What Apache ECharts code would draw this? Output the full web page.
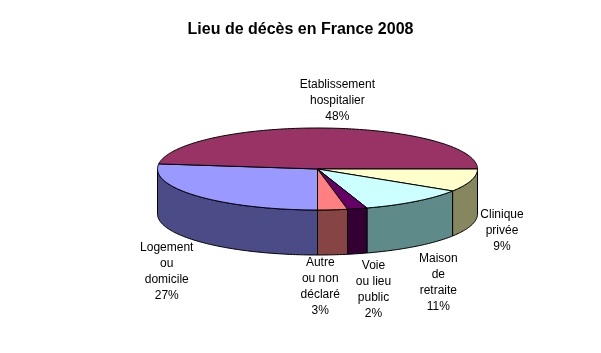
<!DOCTYPE html>
<html>
<head>
    <meta charset="utf-8" />
    <title>Lieu de décès</title>
    <script src="https://cdn.jsdelivr.net/npm/echarts@6/dist/echarts.min.js"></script>
</head>
<body style="margin:0;background:#fff;">
<div id="main" style="width: 601px;height:353px;"></div>
<script type="text/javascript">
    // données
    var categories = ['Logement ou domicile', 'Etablissement hospitalier', 'Clinique privée', 'Maison de retraite', 'Voie ou lieu public', 'Autre ou non déclaré'];
    var values = [27, 48, 9, 11, 2, 3];
    var labelTexts = ['Logement\nou\ndomicile', 'Etablissement\nhospitalier', 'Clinique\nprivée', 'Maison\nde\nretraite', 'Voie\nou lieu\npublic', 'Autre\nou non\ndéclaré'];

    // couleurs : dessus / côté
    var topColors = ['#9999ff', '#993366', '#ffffcc', '#ccffff', '#660066', '#ff8080'];
    var sideColors = ['#4b4b87', '#511b36', '#87875f', '#5f8a8a', '#330033', '#874444'];
    // petits décalages des étiquettes (comme Excel)
    var labelNudge = [[-9, 7], [8, 1], [3, -3], [5, 8], [9, 1], [-15, -4]];

    // camembert 3D aplati
    var pie = {cx: 317.5, cy: 169, rx: 160, ry: 41, depth: 45, start: 180};

    var total = 0, cum = [];
    values.forEach(function (v) { cum.push(total); total += v; });

    function pt(deg, dy) {
        var r = deg * Math.PI / 180;
        return [pie.cx + pie.rx * Math.sin(r), pie.cy - pie.ry * Math.cos(r) + dy];
    }

    function renderItem(params, api) {
        var i = params.dataIndex;
        var v = api.value(0);
        var a0 = pie.start + cum[i] / total * 360;
        var a1 = a0 + v / total * 360;
        var children = [];
        var d, k;

        // dessus
        var pts = [[pie.cx, pie.cy]];
        for (d = a0; d < a1; d += 1) pts.push(pt(d, 0));
        pts.push(pt(a1, 0));
        children.push({
            type: 'polygon', z2: 1,
            shape: {points: pts},
            style: {fill: topColors[i], stroke: '#000', lineWidth: 1}
        });

        // côté visible (devant)
        for (k = 0; k < 2; k++) {
            var lo = Math.max(a0, 90 + 360 * k), hi = Math.min(a1, 270 + 360 * k);
            if (hi > lo) {
                var w = [];
                for (d = lo; d < hi; d += 1) w.push(pt(d, 0));
                w.push(pt(hi, 0));
                w.push(pt(hi, pie.depth));
                for (d = hi; d > lo; d -= 1) w.push(pt(d, pie.depth));
                w.push(pt(lo, pie.depth));
                children.push({
                    type: 'polygon', z2: 0,
                    shape: {points: w},
                    style: {fill: sideColors[i], stroke: '#000', lineWidth: 1}
                });
            }
        }

        // étiquette
        var mid = ((a0 + a1) / 2) % 360;
        var rad = mid * Math.PI / 180;
        var sx = Math.sin(rad), sy = -Math.cos(rad);
        var front = mid > 90 && mid < 270;
        var rim = pt(mid, front ? pie.depth : 0);
        var text = labelTexts[i] + '\n' + v + '%';
        var nLines = text.split('\n').length;
        var lx = rim[0] + sx * 4 + sx * 25 + labelNudge[i][0];
        var ly = rim[1] + sy * 4 + sy * nLines * 8 + labelNudge[i][1];
        children.push({
            type: 'text', z2: 2,
            style: {
                text: text, x: lx, y: ly,
                align: 'center', verticalAlign: 'middle',
                fill: '#000', font: '12px "Liberation Sans", Arial, sans-serif',
                lineHeight: 16
            }
        });

        return {type: 'group', children: children};
    }

    var myChart = echarts.init(document.getElementById('main'));
    var option = {
        backgroundColor: '#fff',
        animation: false,
        title: {
            text: 'Lieu de décès en France 2008',
            left: 'center',
            top: 17,
            textStyle: {fontFamily: 'Liberation Sans', fontSize: 16, fontWeight: 'bold', color: '#000'}
        },
        series: [
            {
                type: 'custom',
                coordinateSystem: 'none',
                renderItem: renderItem,
                data: values.map(function (v, i) { return {name: categories[i], value: [v]}; })
            }
        ]
    };
    myChart.setOption(option);
</script>
</body>
</html>
